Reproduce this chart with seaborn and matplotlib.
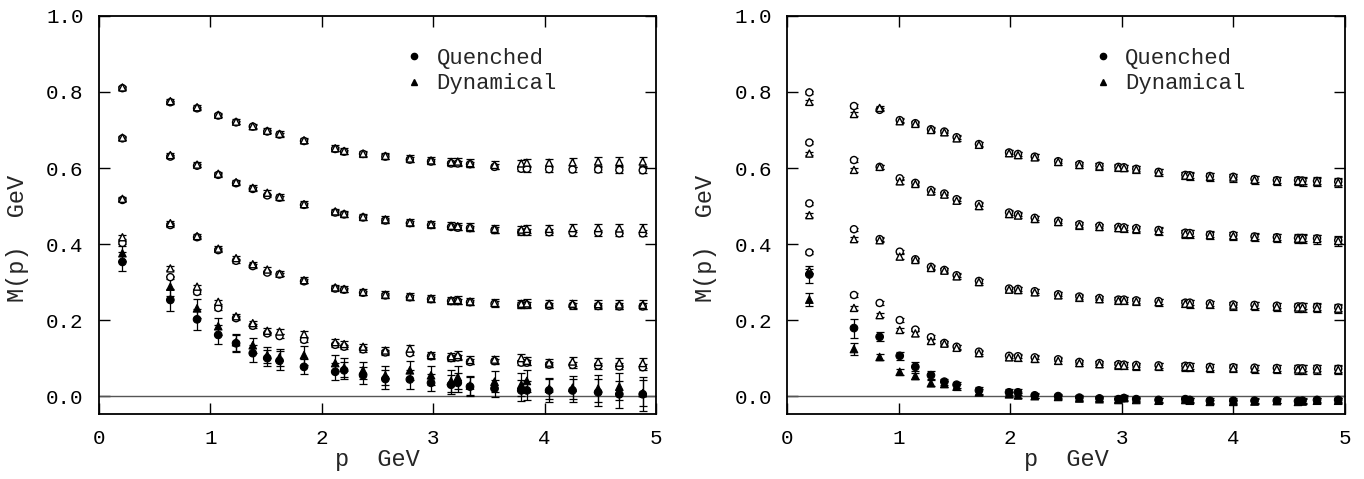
import numpy as np
import pandas as pd
import matplotlib
matplotlib.use("Agg")
import matplotlib.pyplot as plt
from matplotlib.lines import Line2D
import seaborn as sns

# ---------------- left panel ----------------
p_left = [0.21, 0.64, 0.88, 1.07, 1.23, 1.38, 1.51, 1.62, 1.84, 2.12, 2.20, 2.37, 2.57,
          2.79, 2.98, 3.16, 3.22, 3.33, 3.55, 3.79, 3.84, 4.04, 4.25, 4.48, 4.67, 4.88]

left_q1 = [0.810, 0.773, 0.757, 0.738, 0.720, 0.709, 0.696, 0.688, 0.671, 0.650, 0.643, 0.637, 0.630,
           0.622, 0.617, 0.612, 0.612, 0.610, 0.603, 0.598, 0.598, 0.597, 0.596, 0.596, 0.595, 0.594]
left_d1 = [0.812, 0.776, 0.760, 0.740, 0.722, 0.710, 0.698, 0.690, 0.673, 0.652, 0.645, 0.638, 0.632,
           0.625, 0.620, 0.616, 0.617, 0.613, 0.608, 0.612, 0.614, 0.614, 0.615, 0.617, 0.616, 0.617]
left_q2 = [0.678, 0.630, 0.606, 0.582, 0.560, 0.545, 0.528, 0.522, 0.503, 0.483, 0.478, 0.470, 0.462,
           0.455, 0.450, 0.445, 0.443, 0.442, 0.437, 0.432, 0.432, 0.431, 0.430, 0.430, 0.428, 0.428]
left_d2 = [0.680, 0.634, 0.609, 0.585, 0.563, 0.548, 0.535, 0.524, 0.505, 0.486, 0.480, 0.472, 0.465,
           0.457, 0.452, 0.448, 0.447, 0.445, 0.440, 0.438, 0.440, 0.440, 0.442, 0.442, 0.441, 0.440]
left_q3 = [0.516, 0.450, 0.418, 0.384, 0.356, 0.342, 0.325, 0.320, 0.302, 0.283, 0.280, 0.272, 0.265,
           0.260, 0.255, 0.250, 0.250, 0.247, 0.243, 0.240, 0.240, 0.238, 0.238, 0.237, 0.236, 0.236]
left_d3 = [0.519, 0.455, 0.421, 0.388, 0.363, 0.347, 0.333, 0.322, 0.305, 0.286, 0.282, 0.274, 0.267,
           0.262, 0.257, 0.252, 0.253, 0.249, 0.245, 0.243, 0.244, 0.243, 0.243, 0.242, 0.241, 0.240]
left_q4 = [0.403, 0.313, 0.274, 0.232, 0.205, 0.185, 0.165, 0.158, 0.148, 0.135, 0.130, 0.123, 0.115,
           0.113, 0.105, 0.100, 0.102, 0.090, 0.092, 0.088, 0.088, 0.083, 0.082, 0.080, 0.078, 0.076]
left_d4 = [0.418, 0.336, 0.288, 0.248, 0.210, 0.192, 0.172, 0.170, 0.163, 0.142, 0.137, 0.130, 0.120,
           0.125, 0.108, 0.105, 0.108, 0.095, 0.096, 0.100, 0.093, 0.088, 0.091, 0.090, 0.088, 0.087]
left_q5 = [0.353, 0.253, 0.202, 0.161, 0.139, 0.113, 0.100, 0.093, 0.077, 0.064, 0.068, 0.055, 0.045,
           0.044, 0.035, 0.030, 0.035, 0.025, 0.020, 0.015, 0.015, 0.015, 0.015, 0.010, 0.005, 0.005]
left_d5 = [0.376, 0.288, 0.231, 0.184, 0.142, 0.134, 0.108, 0.102, 0.108, 0.087, 0.075, 0.068, 0.055,
           0.068, 0.055, 0.040, 0.050, 0.028, 0.038, 0.030, 0.040, 0.020, 0.022, 0.020, 0.025, 0.008]
left_q5_err = [0.025, 0.030, 0.028, 0.025, 0.022, 0.022, 0.022, 0.025, 0.020, 0.022, 0.022, 0.022, 0.025,
               0.025, 0.022, 0.025, 0.025, 0.025, 0.022, 0.028, 0.025, 0.030, 0.030, 0.035, 0.035, 0.045]
left_d5_err = [0.020, 0.025, 0.025, 0.022, 0.022, 0.020, 0.022, 0.022, 0.025, 0.022, 0.025, 0.022, 0.025,
               0.025, 0.025, 0.028, 0.030, 0.025, 0.028, 0.030, 0.030, 0.028, 0.030, 0.035, 0.035, 0.035]

# ---------------- right panel ----------------
p_right = [0.20, 0.60, 0.83, 1.01, 1.15, 1.29, 1.41, 1.52, 1.72, 1.99, 2.07, 2.22, 2.43, 2.62, 2.80,
           2.97, 3.02, 3.13, 3.33, 3.57, 3.61, 3.79, 4.00, 4.19, 4.39, 4.58, 4.62, 4.75, 4.94]

right_q1 = [0.799, 0.763, 0.753, 0.726, 0.718, 0.702, 0.696, 0.681, 0.663, 0.641, 0.637, 0.630, 0.618, 0.610, 0.606,
            0.603, 0.602, 0.598, 0.590, 0.582, 0.581, 0.579, 0.577, 0.571, 0.568, 0.568, 0.567, 0.566, 0.564]
right_d1 = [0.774, 0.742, 0.758, 0.723, 0.716, 0.700, 0.694, 0.678, 0.661, 0.639, 0.634, 0.628, 0.616, 0.608, 0.604,
            0.601, 0.600, 0.596, 0.588, 0.580, 0.579, 0.577, 0.575, 0.569, 0.566, 0.566, 0.565, 0.564, 0.562]
right_q2 = [0.667, 0.621, 0.603, 0.573, 0.561, 0.542, 0.533, 0.518, 0.505, 0.483, 0.478, 0.469, 0.461, 0.452, 0.448,
            0.445, 0.444, 0.442, 0.437, 0.430, 0.429, 0.425, 0.424, 0.420, 0.418, 0.416, 0.416, 0.415, 0.410]
right_d2 = [0.638, 0.595, 0.603, 0.565, 0.558, 0.538, 0.530, 0.514, 0.500, 0.479, 0.475, 0.466, 0.458, 0.449, 0.445,
            0.442, 0.441, 0.439, 0.434, 0.427, 0.426, 0.423, 0.421, 0.418, 0.416, 0.414, 0.414, 0.413, 0.408]
right_q3 = [0.507, 0.439, 0.413, 0.380, 0.360, 0.340, 0.332, 0.318, 0.303, 0.283, 0.282, 0.276, 0.268, 0.262, 0.258,
            0.254, 0.254, 0.252, 0.250, 0.246, 0.246, 0.244, 0.241, 0.240, 0.238, 0.236, 0.236, 0.235, 0.233]
right_d3 = [0.476, 0.413, 0.410, 0.367, 0.358, 0.337, 0.330, 0.315, 0.300, 0.280, 0.279, 0.273, 0.265, 0.259, 0.255,
            0.251, 0.251, 0.249, 0.247, 0.243, 0.243, 0.241, 0.238, 0.237, 0.235, 0.233, 0.233, 0.232, 0.230]
right_q4 = [0.378, 0.266, 0.245, 0.200, 0.175, 0.155, 0.140, 0.130, 0.117, 0.106, 0.105, 0.102, 0.097, 0.090, 0.087,
            0.084, 0.083, 0.082, 0.081, 0.080, 0.079, 0.077, 0.076, 0.075, 0.074, 0.073, 0.073, 0.073, 0.072]
right_d4 = [0.330, 0.232, 0.213, 0.174, 0.165, 0.145, 0.138, 0.127, 0.113, 0.102, 0.101, 0.098, 0.093, 0.087, 0.084,
            0.081, 0.080, 0.079, 0.078, 0.077, 0.076, 0.074, 0.073, 0.072, 0.071, 0.070, 0.070, 0.070, 0.069]
right_q5 = [0.320, 0.179, 0.156, 0.106, 0.077, 0.055, 0.038, 0.030, 0.015, 0.010, 0.010, 0.002, 0.000, -0.004, -0.006,
            -0.008, -0.005, -0.008, -0.010, -0.008, -0.010, -0.012, -0.012, -0.012, -0.012, -0.013, -0.012, -0.010, -0.010]
right_d5 = [0.254, 0.124, 0.103, 0.064, 0.053, 0.034, 0.032, 0.025, 0.010, 0.005, 0.002, 0.000, -0.002, -0.006, -0.008,
            -0.010, -0.005, -0.010, -0.012, -0.010, -0.012, -0.015, -0.015, -0.014, -0.013, -0.015, -0.014, -0.012, -0.012]
right_q5_err = [0.022, 0.025, 0.012, 0.010, 0.012, 0.010, 0.008, 0.008, 0.010, 0.008, 0.008, 0.006, 0.006, 0.006, 0.006,
                0.008, 0.008, 0.006, 0.006, 0.006, 0.006, 0.006, 0.006, 0.006, 0.006, 0.006, 0.006, 0.006, 0.006]
right_d5_err = [0.016, 0.016, 0.008, 0.008, 0.008, 0.008, 0.008, 0.008, 0.008, 0.006, 0.006, 0.006, 0.006, 0.006, 0.006,
                0.006, 0.006, 0.006, 0.006, 0.006, 0.006, 0.006, 0.006, 0.006, 0.006, 0.006, 0.006, 0.006, 0.006]

x_ticks = [0, 1, 2, 3, 4, 5]
y_ticks = [0.0, 0.2, 0.4, 0.6, 0.8, 1.0]
legend_labels = ["Quenched", "Dynamical"]


def open_errors(values, kind):
    # small statistical errors on the heavier-mass curves, growing with p
    v = np.asarray(values, dtype=float)
    n = len(v)
    base = 0.004 if kind == "Quenched" else 0.005
    grow = np.linspace(0.0, 0.004 if kind == "Quenched" else 0.007, n)
    return base + grow


def build_frame(p, curves, filled_err):
    rows = []
    for idx, (q, d) in enumerate(curves):
        is_filled = idx == len(curves) - 1
        for kind, vals in (("Quenched", q), ("Dynamical", d)):
            if is_filled:
                errs = filled_err[kind]
            else:
                errs = open_errors(vals, kind)
            for pi, vi, ei in zip(p, vals, errs):
                rows.append({"p": pi, "M": vi, "err": ei, "curve": idx,
                             "kind": kind, "filled": is_filled})
    return pd.DataFrame(rows)


left_df = build_frame(p_left,
                      [(left_q1, left_d1), (left_q2, left_d2), (left_q3, left_d3),
                       (left_q4, left_d4), (left_q5, left_d5)],
                      {"Quenched": left_q5_err, "Dynamical": left_d5_err})
right_df = build_frame(p_right,
                       [(right_q1, right_d1), (right_q2, right_d2), (right_q3, right_d3),
                        (right_q4, right_d4), (right_q5, right_d5)],
                       {"Quenched": right_q5_err, "Dynamical": right_d5_err})

sns.set_theme(style="ticks")
plt.rcParams["font.family"] = ["Liberation Mono", "DejaVu Sans"]
plt.rcParams["xtick.direction"] = "in"
plt.rcParams["ytick.direction"] = "in"

fig = plt.figure(figsize=(13.64, 4.79), dpi=100)
fig.patch.set_facecolor("white")
ax_l = fig.add_axes([0.0726, 0.1357, 0.4084, 0.831])
ax_r = fig.add_axes([0.577, 0.1357, 0.409, 0.831])

marker_map = {"Quenched": "o", "Dynamical": "^"}

for ax, df in ((ax_l, left_df), (ax_r, right_df)):
    ax.axhline(0.0, color="#555555", lw=1.0, zorder=1)
    # error bars
    for kind in legend_labels:
        sub = df[df["kind"] == kind]
        ax.errorbar(sub["p"], sub["M"], yerr=sub["err"], fmt="none",
                    ecolor="black", elinewidth=0.9, capsize=2.6, capthick=0.9, zorder=2)
    # open symbols
    sns.scatterplot(data=df[~df["filled"]], x="p", y="M", style="kind",
                    markers=marker_map, style_order=legend_labels, ax=ax,
                    color="white", edgecolor="black", linewidth=1.0, s=26,
                    legend=False, zorder=3)
    # filled symbols
    sns.scatterplot(data=df[df["filled"]], x="p", y="M", style="kind",
                    markers=marker_map, style_order=legend_labels, ax=ax,
                    color="black", edgecolor="black", linewidth=0.8, s=30,
                    legend=False, zorder=4)

    ax.set_xlim(0, 5)
    ax.set_ylim(-0.047, 1.0)
    ax.set_xticks(x_ticks)
    ax.set_yticks(y_ticks)
    ax.set_xticklabels([str(t) for t in x_ticks])
    ax.set_yticklabels([f"{t:.1f}" for t in y_ticks])
    ax.tick_params(axis="both", which="major", direction="in", length=8, width=1.0,
                   top=True, right=True, labelsize=15, colors="black", pad=11)
    for side in ("left", "bottom", "top", "right"):
        ax.spines[side].set_visible(True)
        ax.spines[side].set_color("black")
        ax.spines[side].set_linewidth(1.3)
    ax.set_xlabel("p  GeV", fontsize=17, labelpad=0)
    ax.set_ylabel("M(p)  GeV", fontsize=17)
    ax.yaxis.set_label_coords(-0.126, 0.44)

    handles = [Line2D([], [], linestyle="none", marker="o", color="black", markersize=4.5),
               Line2D([], [], linestyle="none", marker="^", color="black", markersize=4.5)]
    ax.legend(handles, legend_labels, loc="upper left", bbox_to_anchor=(0.53, 0.943),
              frameon=False, fontsize=16, handlelength=1.0, handletextpad=0.5,
              labelspacing=0.22, borderaxespad=0)

fig.savefig("out.png", dpi=100, facecolor="white")
